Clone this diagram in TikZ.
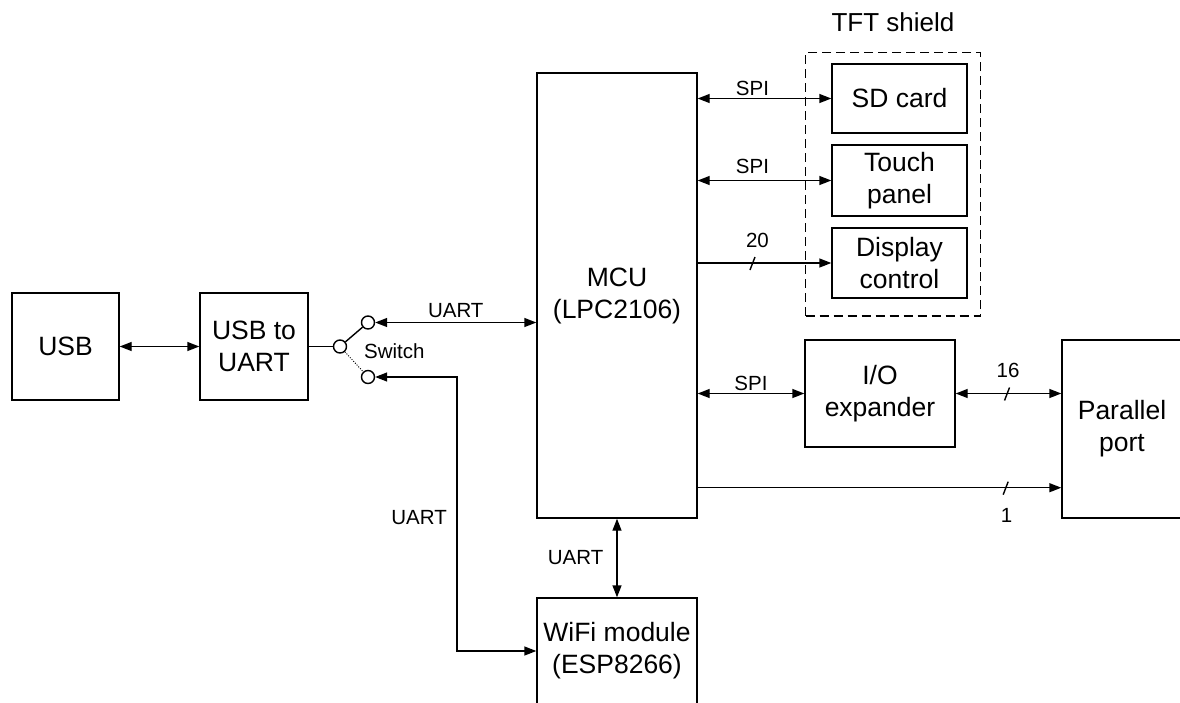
\documentclass[tikz,border=0pt]{standalone}
\usepackage{fontspec}
\setmainfont{Liberation Sans}
\usetikzlibrary{arrows.meta,calc}
\begin{document}
\begin{tikzpicture}[x=1pt,y=-1pt,
  box/.style={draw, line width=1.4pt, inner sep=0pt, align=center, font=\fontsize{26.5}{32}\selectfont},
  lbl/.style={font=\fontsize{20.5}{24}\selectfont, inner sep=1pt},
  conn/.style={line width=1.4pt},
  sw/.style={circle, draw, line width=1.4pt, minimum size=13pt, inner sep=0pt},
  >={Triangle[length=12pt,width=9pt]}]
\clip (0,0) rectangle (1180,702);
\fill[white] (0,0) rectangle (1180,702);
% boxes
\node[box, minimum width=107, minimum height=107] (usb) at (65.5,346.5) {USB};
\node[box, minimum width=108, minimum height=107] (u2u) at (254,346.5) {USB to\\UART};
\node[box, minimum width=160, minimum height=445] (mcu) at (617,295.5) {MCU\\(LPC2106)};
\node[box, minimum width=160, minimum height=106] (wifi) at (617,651) {WiFi module\\(ESP8266)};
\node[draw, line width=1.4pt, dash pattern=on 9pt off 5pt, minimum width=175, minimum height=263.5, inner sep=0pt] (tft) at (893,184.25) {};
\node[font=\fontsize{26}{30}\selectfont] (tftl) at (893,22) {TFT shield};
\node[box, minimum width=135, minimum height=69] (sd) at (899.5,98.5) {SD card};
\node[box, minimum width=135, minimum height=71] (touch) at (899.5,180.5) {Touch\\panel};
\node[box, minimum width=135, minimum height=70] (disp) at (899.5,263) {Display\\control};
\node[box, minimum width=150, minimum height=107] (io) at (880,393.5) {I/O\\expander};
\node[box, minimum width=120, minimum height=178] (pp) at (1122,429) {Parallel\\port};
% switch
\node[sw] (swc) at (340,346.5) {};
\node[sw] (swa) at (368,322.5) {};
\node[sw] (swb) at (368,377) {};
\node[lbl, anchor=west] (swl) at (363,351) {Switch};
% connectors
\draw[conn,<->] (usb.east) -- (u2u.west);
\draw[conn] (u2u.east) -- (swc.west);
\draw[conn] (swc) -- (swa);
\draw[line width=0.9pt, dash pattern=on 1pt off 1.5pt] (swc) -- (swb);
\draw[conn,<->] (swa.east) -- node[lbl, above=3pt] {UART} (swa.east -| mcu.west);
\draw[conn,<->] (swb.east) -| (457,500) |- (wifi.west);
\node[lbl, anchor=east] (ul) at (448,518) {UART};
\draw[conn,<->] (mcu.south) -- node[lbl, left=12pt] {UART} (wifi.north);
\draw[conn,<->] (mcu.east |- sd.west) -- node[lbl, above=1pt, pos=0.41] {SPI} (sd.west);
\draw[conn,<->] (mcu.east |- touch.west) -- node[lbl, above=5pt, pos=0.41] {SPI} (touch.west);
\draw[conn,->] (mcu.east |- disp.west) -- coordinate[pos=0.41] (s20) (disp.west);
\draw[conn] ([shift={(-2.5,7)}]s20) -- ([shift={(2.5,-6)}]s20);
\node[lbl] at ([shift={(5,-23)}]s20) {20};
\draw[conn,<->] (mcu.east |- io.west) -- node[lbl, above=1pt] {SPI} (io.west);
\draw[conn,<->] (io.east) -- coordinate[pos=0.486] (s16) (io.east -| pp.west);
\draw[conn] ([shift={(-2.5,7)}]s16) -- ([shift={(2.5,-6)}]s16);
\node[lbl] at ([shift={(1,-23)}]s16) {16};
\coordinate (m1) at ($(mcu.south east)+(0,-31)$);
\draw[conn,->] (m1) -- coordinate[pos=0.847] (s1) (m1 -| pp.west);
\draw[conn] ([shift={(-2.5,7)}]s1) -- ([shift={(2.5,-6)}]s1);
\node[lbl] at ([shift={(1,28)}]s1) {1};
\end{tikzpicture}
\end{document}
